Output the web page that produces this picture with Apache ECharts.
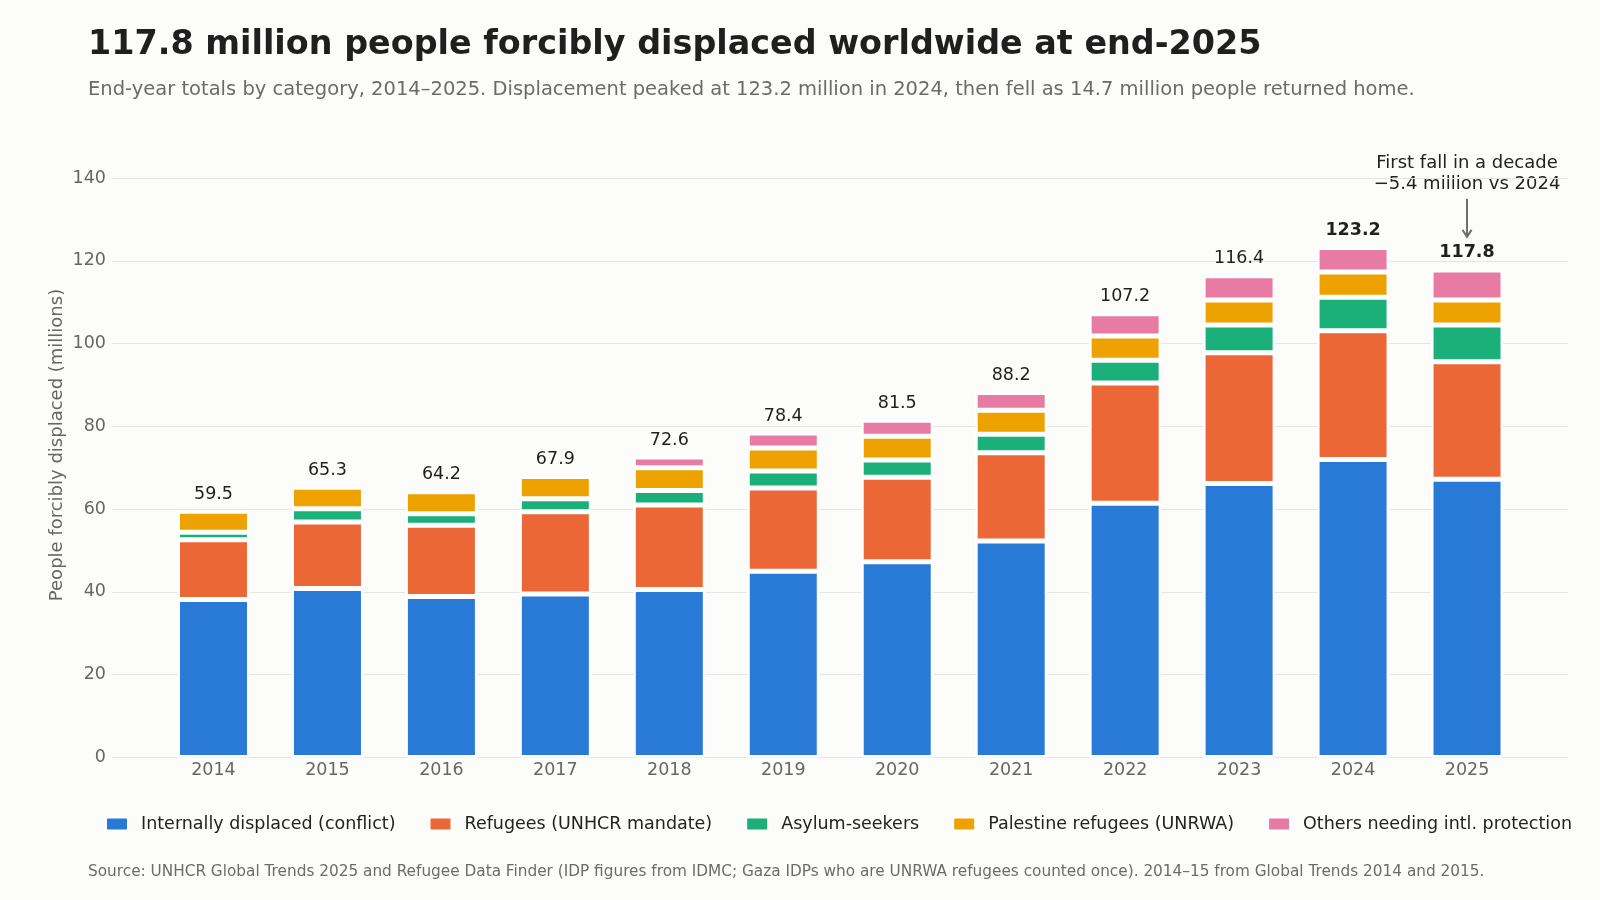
<!DOCTYPE html>
<html>
<head>
<meta charset="utf-8">
<script src="https://cdn.jsdelivr.net/npm/echarts@6/dist/echarts.min.js"></script>
<style>
html,body{margin:0;padding:0;background:#fcfcfa;}
#chart{width:1600px;height:900px;}
</style>
</head>
<body>
<div id="chart"></div>
<script>
const years = ['2014','2015','2016','2017','2018','2019','2020','2021','2022','2023','2024','2025'];
const idp       = [38.2, 40.8, 38.9, 39.5, 40.6, 45.0, 47.3, 52.3, 61.4, 66.2, 72.0, 67.2];
const refugees  = [14.4, 16.1, 17.2, 19.9, 20.4, 20.1, 20.4, 21.3, 29.1, 31.6, 31.1, 28.4];
const asylum    = [1.8, 3.2, 2.8, 3.1, 3.5, 4.1, 4.2, 4.5, 5.5, 6.7, 8.1, 8.9];
const palestine = [5.1, 5.2, 5.3, 5.4, 5.5, 5.6, 5.7, 5.8, 5.8, 6.0, 6.1, 6.0];
const others    = [0, 0, 0, 0, 2.6, 3.6, 3.9, 4.3, 5.4, 5.9, 5.9, 7.3];
const totals    = [59.5, 65.3, 64.2, 67.9, 72.6, 78.4, 81.5, 88.2, 107.2, 116.4, 123.2, 117.8];
const boldYears = ['2024', '2025'];

const seriesNames = ['Internally displaced (conflict)', 'Refugees (UNHCR mandate)', 'Asylum-seekers', 'Palestine refugees (UNRWA)', 'Others needing intl. protection'];
const seriesData = [idp, refugees, asylum, palestine, others];
const colors = ['#2979d6', '#eb6836', '#1bb07a', '#eea200', '#e87ba4'];

const FONT = 'DejaVu Sans';
const chart = echarts.init(document.getElementById('chart'), null, {renderer: 'canvas'});

const barSeries = seriesNames.map((n, i) => ({
  name: n,
  type: 'bar',
  stack: 'total',
  xAxisIndex: 1,
  yAxisIndex: 1,
  barWidth: 72,
  itemStyle: {color: colors[i], borderColor: '#ffffff', borderWidth: 2.5},
  emphasis: {disabled: true},
  data: seriesData[i].map(v => v === 0 ? null : v)
}));

const option = {
  backgroundColor: '#fcfcfa',
  animation: false,
  textStyle: {fontFamily: FONT},
  grid: [
    {left: 112, right: 32, top: 178, bottom: 142.5},
    {left: 156.5, right: 76, top: 178, bottom: 142.5}
  ],
  xAxis: [
    {type: 'value', gridIndex: 0, show: false, min: 0, max: 1},
    {type: 'category', gridIndex: 1, data: years,
     axisLine: {show: false}, axisTick: {show: false},
     axisLabel: {color: '#666666', fontSize: 17.5, fontFamily: FONT, margin: 4}}
  ],
  yAxis: [
    {type: 'value', gridIndex: 0, min: 0, max: 140, interval: 20,
     axisLine: {show: false}, axisTick: {show: false},
     axisLabel: {color: '#666666', fontSize: 17.5, fontFamily: FONT, margin: 6},
     splitLine: {lineStyle: {color: '#e6e6e1', width: 1}}},
    {type: 'value', gridIndex: 1, min: 0, max: 140, interval: 20, show: false, splitLine: {show: false}}
  ],
  legend: {
    data: seriesNames,
    left: 105, top: 814, padding: 0,
    itemWidth: 22, itemHeight: 13, itemGap: 33,
    icon: 'rect',
    textStyle: {color: '#222222', fontSize: 17.5, fontFamily: FONT, padding: [0, 0, 0, 8], lineHeight: 20}
  },
  series: barSeries.concat([{
    type: 'scatter',
    xAxisIndex: 1, yAxisIndex: 1,
    symbolSize: 0,
    silent: true,
    z: 10,
    itemStyle: {opacity: 1},
    label: {show: true, position: 'top', distance: 8, color: '#1f1f1f', fontSize: 17.5, fontFamily: FONT,
            textBorderWidth: 0, formatter: p => p.value[1].toFixed(1)},
    data: years.map((y, i) => ({
      value: [y, totals[i]],
      label: boldYears.includes(y) ? {fontWeight: 'bold'} : {}
    }))
  }]),
  graphic: [
    {type: 'text', id: 'title', left: 88, top: 29, style: {text: '117.8 million people forcibly displaced worldwide at end-2025', fill: '#1f1f1f', font: 'bold 33.4px "DejaVu Sans"'}},
    {type: 'text', id: 'sub', left: 88, top: 80, style: {text: 'End-year totals by category, 2014–2025. Displacement peaked at 123.2 million in 2024, then fell as 14.7 million people returned home.', fill: '#6b6b6b', font: '19.5px "DejaVu Sans"'}},
    {type: 'text', id: 'src', left: 88, top: 865, style: {text: 'Source: UNHCR Global Trends 2025 and Refugee Data Finder (IDP figures from IDMC; Gaza IDPs who are UNRWA refugees counted once). 2014–15 from Global Trends 2014 and 2015.', fill: '#6b6b6b', font: '15.3px "DejaVu Sans"'}},
    {type: 'text', id: 'yname', x: 57, y: 445, rotation: Math.PI / 2, style: {text: 'People forcibly displaced (millions)', fill: '#666666', font: '18px "DejaVu Sans"', align: 'center', verticalAlign: 'middle'}}
  ]
};
chart.setOption(option);

// annotation anchored to the 2025 total via the chart's own scales
const idx = years.indexOf('2025');
const p = chart.convertToPixel({xAxisIndex: 1, yAxisIndex: 1}, [years[idx], totals[idx]]);
chart.setOption({
  graphic: [
    {type: 'text', id: 'ann1', x: p[0], y: p[1] - 107, style: {text: 'First fall in a decade', fill: '#222222', font: '18px "DejaVu Sans"', align: 'center', verticalAlign: 'middle'}},
    {type: 'text', id: 'ann2', x: p[0], y: p[1] - 86, style: {text: '\u22125.4 million vs 2024', fill: '#222222', font: '18px "DejaVu Sans"', align: 'center', verticalAlign: 'middle'}},
    {type: 'line', id: 'arrL', shape: {x1: p[0], y1: p[1] - 71, x2: p[0], y2: p[1] - 34}, style: {stroke: '#6f6f6f', lineWidth: 2}},
    {type: 'polyline', id: 'arrH', shape: {points: [[p[0] - 4.5, p[1] - 40], [p[0], p[1] - 33], [p[0] + 4.5, p[1] - 40]]}, style: {stroke: '#6f6f6f', lineWidth: 2, fill: null}}
  ]
});
</script>
</body>
</html>
